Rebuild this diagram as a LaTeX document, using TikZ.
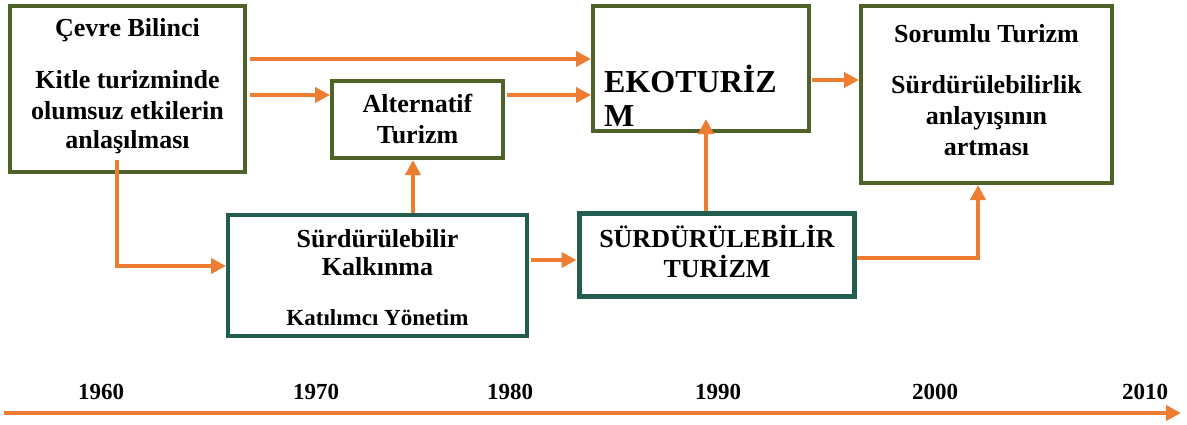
\documentclass[tikz,border=0pt]{standalone}
\usepackage{fontspec}
\setmainfont{Liberation Serif}
\usetikzlibrary{arrows.meta}
\definecolor{orng}{HTML}{ED7D31}
\definecolor{boxolive}{HTML}{4F6228}
\definecolor{boxteal}{HTML}{215E50}
\newcommand\fsz[1]{\fontsize{#1}{#1}\selectfont}
\begin{document}
\begin{tikzpicture}[x=1pt,y=-1pt,
  obox/.style={draw=boxolive,line width=4pt,inner sep=0pt},
  tbox/.style={draw=boxteal,line width=4pt,inner sep=0pt},
  arr/.style={draw=orng,line width=3.8pt,-{Triangle[length=15pt,width=15pt]}},
  txt/.style={anchor=base,inner sep=0pt,font=\bfseries\fsz{26}},
  smalltxt/.style={anchor=base,inner sep=0pt,font=\bfseries\fsz{23}},
  bigtxt/.style={anchor=base west,inner sep=0pt,font=\bfseries\fsz{32}},
  yeartxt/.style={anchor=base,inner sep=0pt,font=\bfseries\fsz{23}}]
\useasboundingbox (0,0) rectangle (1187,424);
% boxes
\node[obox,minimum width=235pt,minimum height=166pt] (cevre) at (127.5,89) {};
\node[obox,minimum width=171pt,minimum height=77pt] (alt) at (417.5,119.5) {};
\node[obox,minimum width=216pt,minimum height=125pt] (eko) at (701,68.5) {};
\node[obox,minimum width=251pt,minimum height=177pt] (sor) at (986.5,94.5) {};
\node[tbox,minimum width=299pt,minimum height=121pt] (kalk) at (377.5,275.5) {};
\node[tbox,line width=5pt,minimum width=275pt,minimum height=83pt] (surd) at (716.5,254.5) {};
% texts
\node[txt] (c1) at (127.5,36) {Çevre Bilinci};
\node[txt] (c2) at (127.5,88) {Kitle turizminde};
\node[txt] (c3) at (127.5,119) {olumsuz etkilerin};
\node[txt] (c4) at (127.5,148) {anlaşılması};
\node[txt] (a1) at (417.5,112) {Alternatif};
\node[txt] (a2) at (417.5,143) {Turizm};
\node[bigtxt] (e1) at (604,92) {EKOTURİZ};
\node[bigtxt] (e2) at (604,126) {M};
\node[txt] (s1) at (986.5,42) {Sorumlu Turizm};
\node[txt] (s2) at (986.5,93) {Sürdürülebilirlik};
\node[txt] (s3) at (986.5,124) {anlayışının};
\node[txt] (s4) at (986.5,155) {artması};
\node[txt] (k1) at (377.5,247) {Sürdürülebilir};
\node[txt] (k2) at (377.5,275) {Kalkınma};
\node[smalltxt] (k3) at (377.5,325) {Katılımcı Yönetim};
\node[txt] (t1) at (717,247) {SÜRDÜRÜLEBİLİR};
\node[txt] (t2) at (717,277) {TURİZM};
% connectors
\draw[arr] ([xshift=3pt,yshift=-55pt]cevre.north east) -- ([yshift=-55pt]eko.north west);
\draw[arr] ([xshift=3pt,yshift=-91pt]cevre.north east) -- ([yshift=-16pt]alt.north west);
\draw[arr] ([xshift=2pt,yshift=-16pt]alt.north east) -- ([yshift=-91pt]eko.north west);
\draw[arr] ([xshift=-10.5pt,yshift=14pt]cevre.south) |- ([yshift=9.5pt]kalk.west);
\coordinate (altfoot) at ([xshift=-4.5pt]alt.south);
\draw[arr] (kalk.north -| altfoot) -- (altfoot);
\draw[arr] ([xshift=2pt,yshift=15.5pt]kalk.east) -- ([yshift=-5.5pt]surd.west);
\coordinate (ekofoot) at ([xshift=5pt,yshift=14pt]eko.south);
\draw[arr] (surd.north -| ekofoot) -- (ekofoot);
\draw[arr] ([xshift=1pt,yshift=-11.5pt]eko.east) -- ([yshift=14.5pt]sor.west);
\draw[arr] ([yshift=-3.5pt]surd.east) -| ([xshift=-8.5pt]sor.south);
% timeline
\node[yeartxt] (y1960) at (101,399) {1960};
\node[yeartxt] (y1970) at (316,399) {1970};
\node[yeartxt] (y1980) at (510,399) {1980};
\node[yeartxt] (y1990) at (718,399) {1990};
\node[yeartxt] (y2000) at (935,399) {2000};
\node[yeartxt] (y2010) at (1145,399) {2010};
\coordinate (tl0) at (4,413);
\coordinate (tl1) at (1181,413);
\draw[arr,line width=4pt] (tl0) -- (tl1);
\end{tikzpicture}
\end{document}
